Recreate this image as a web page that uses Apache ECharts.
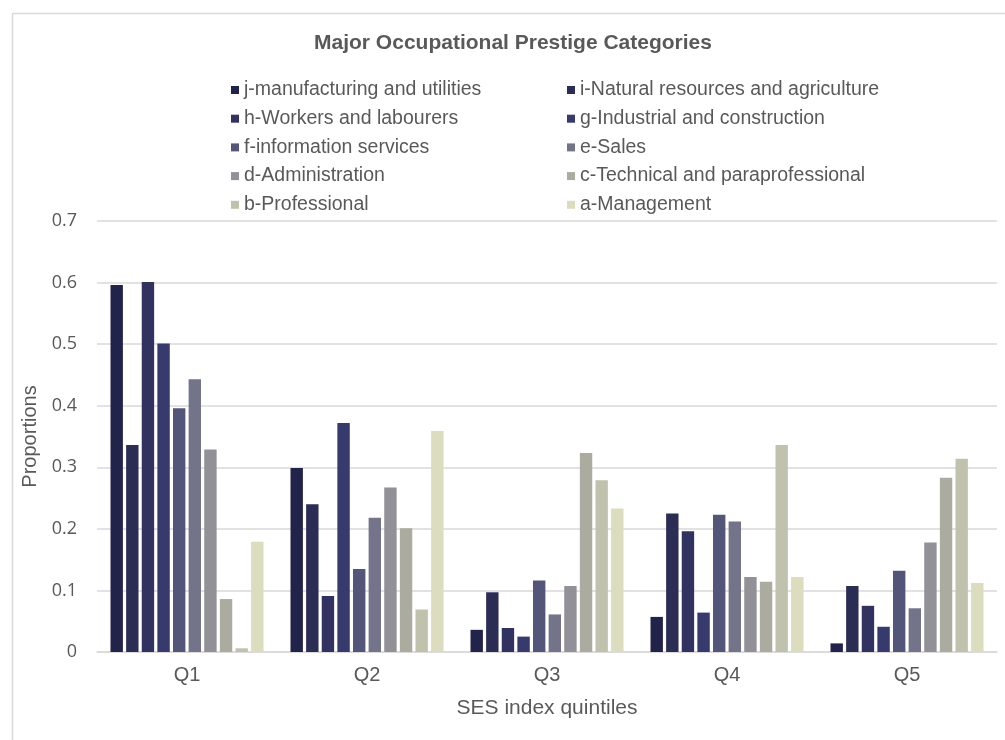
<!DOCTYPE html>
<html>
<head>
<meta charset="utf-8">
<script src="https://cdn.jsdelivr.net/npm/echarts@6/dist/echarts.min.js"></script>
<style>
html,body{margin:0;padding:0;background:#fff;}
#chart{width:1005px;height:740px;}
</style>
</head>
<body>
<div id="chart"></div>
<script>
const categories = ['Q1', 'Q2', 'Q3', 'Q4', 'Q5'];
const seriesNames = [
  'j-manufacturing and utilities',
  'i-Natural resources and agriculture',
  'h-Workers and labourers',
  'g-Industrial and construction',
  'f-information services',
  'e-Sales',
  'd-Administration',
  'c-Technical and paraprofessional',
  'b-Professional',
  'a-Management'
];
const jManufacturing = [0.596, 0.299, 0.036, 0.057, 0.014];
const iNatural       = [0.336, 0.240, 0.097, 0.225, 0.107];
const hWorkers       = [0.601, 0.091, 0.039, 0.196, 0.075];
const gIndustrial    = [0.501, 0.372, 0.025, 0.064, 0.041];
const fInformation   = [0.396, 0.135, 0.116, 0.223, 0.132];
const eSales         = [0.443, 0.218, 0.061, 0.212, 0.071];
const dAdministration= [0.329, 0.267, 0.107, 0.122, 0.178];
const cTechnical     = [0.086, 0.201, 0.323, 0.114, 0.283];
const bProfessional  = [0.006, 0.069, 0.279, 0.336, 0.314];
const aManagement    = [0.179, 0.359, 0.233, 0.122, 0.112];
const yTicks = [0, 0.1, 0.2, 0.3, 0.4, 0.5, 0.6, 0.7];

const seriesValues = [jManufacturing, iNatural, hWorkers, gIndustrial, fInformation,
  eSales, dAdministration, cTechnical, bProfessional, aManagement];
const colors = ['#22234a', '#2c2d55', '#31325f', '#363a6c', '#535579',
  '#737389', '#929198', '#abab9f', '#c0c2ae', '#dcdcbf'];

const chart = echarts.init(document.getElementById('chart'), null, {renderer: 'canvas'});
const legendText = {color: '#595959', fontSize: 19.5, fontFamily: 'Liberation Sans', lineHeight: 17};
const option = {
  backgroundColor: '#ffffff',
  animation: false,
  color: colors,
  title: {
    text: 'Major Occupational Prestige Categories',
    left: 513, top: 33, textAlign: 'center', padding: 0,
    textStyle: {color: '#595959', fontSize: 21, fontWeight: 'bold', fontFamily: 'Liberation Sans'}
  },
  graphic: [{
    type: 'rect', left: 10, top: 11, silent: true,
    shape: {width: 1100, height: 800},
    style: {fill: 'none', stroke: '#d9d9d9', lineWidth: 1.5}
  }],
  legend: [
    {
      orient: 'vertical', left: 231, top: 80, padding: 0, itemGap: 8.7,
      itemWidth: 8, itemHeight: 8, icon: 'rect',
      data: seriesNames.filter((n, i) => i % 2 === 0),
      textStyle: legendText
    },
    {
      orient: 'vertical', left: 567, top: 80, padding: 0, itemGap: 8.7,
      itemWidth: 8, itemHeight: 8, icon: 'rect',
      data: seriesNames.filter((n, i) => i % 2 === 1),
      textStyle: legendText
    }
  ],
  grid: {left: 97, right: 8, top: 221, bottom: 88, containLabel: false},
  xAxis: {
    type: 'category',
    data: categories,
    name: 'SES index quintiles',
    nameLocation: 'middle',
    nameGap: 46,
    nameTextStyle: {color: '#595959', fontSize: 21, fontFamily: 'Liberation Sans'},
    axisLine: {show: true, lineStyle: {color: '#d9d9d9', width: 1.5}},
    axisTick: {show: false},
    axisLabel: {color: '#595959', fontSize: 20, fontFamily: 'Liberation Sans', margin: 13}
  },
  yAxis: {
    type: 'value',
    min: yTicks[0],
    max: yTicks[yTicks.length - 1],
    interval: 0.1,
    name: 'Proportions',
    nameLocation: 'middle',
    nameGap: 52,
    nameTextStyle: {color: '#595959', fontSize: 20, fontFamily: 'Liberation Sans'},
    axisLine: {show: false},
    axisTick: {show: false},
    splitLine: {lineStyle: {color: '#d9d9d9', width: 1.5}},
    axisLabel: {color: '#595959', fontSize: 18, fontFamily: 'Open Sans', margin: 20,
      formatter: v => String(Math.round(v * 10) / 10)}
  },
  series: seriesNames.map((name, i) => ({
    name: name,
    type: 'bar',
    data: seriesValues[i],
    barGap: '26%',
    barCategoryGap: '15%',
    itemStyle: {color: colors[i]}
  }))
};
chart.setOption(option);
</script>
</body>
</html>
